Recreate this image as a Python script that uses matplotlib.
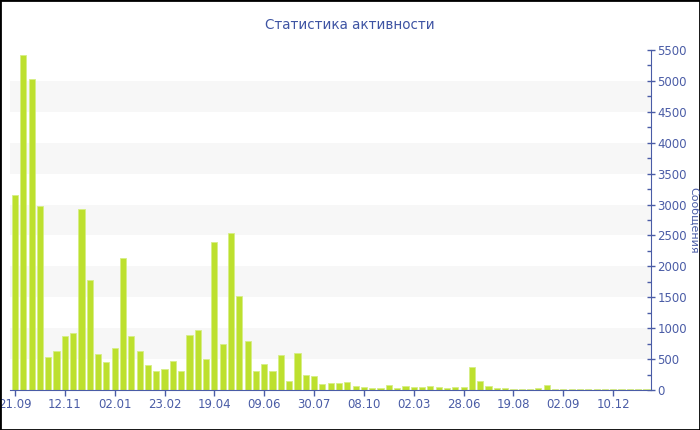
import numpy as np
import matplotlib
matplotlib.use("Agg")
import matplotlib.pyplot as plt
from matplotlib.patches import Rectangle
from matplotlib.ticker import MultipleLocator

title = "Статистика активности"
ylabel = "Сообщения"

tick_labels = ["21.09", "12.11", "02.01", "23.02", "19.04", "09.06", "30.07",
               "08.10", "02.03", "28.06", "19.08", "02.09", "10.12"]

# messages per period
counts = [3155, 5420, 5025, 2975, 540, 630, 875, 915, 2920, 1780, 585, 450, 685, 2135,
          875, 625, 405, 300, 345, 465, 315, 895, 975, 500, 2390, 740, 2540,
          1525, 795, 300, 425, 305, 565, 145, 595, 250, 225, 92, 110, 115,
          122, 65, 52, 27, 27, 81, 35, 70, 49, 49, 59, 43, 27, 50, 45,
          372, 146, 59, 32, 32, 16, 16, 16, 32, 88, 22,
          18, 16, 18, 20, 18, 20, 18, 22, 20, 20, 22]

blue = "#4a5ca6"
bar_col = "#bde02e"

fig = plt.figure(figsize=(7, 4.3), dpi=100)
ax = fig.add_axes([10/700, 1 - 390/430, 641/700, 340/430])

x = np.arange(len(counts))
ax.bar(x, counts, width=0.74, color=bar_col, edgecolor="#d6ee86", linewidth=0.6, zorder=3)

# alternating bands
for lo in range(500, 5500, 1000):
    ax.axhspan(lo, lo + 500, color="#f7f7f7", zorder=0, lw=0)

ax.set_xlim(-0.6, len(counts) - 0.45)
ax.set_ylim(0, 5500)

ax.yaxis.tick_right()
ax.yaxis.set_major_locator(MultipleLocator(500))
ax.yaxis.set_minor_locator(MultipleLocator(250))
ax.tick_params(axis="y", which="major", direction="inout", length=6, width=1,
               color=blue, labelcolor=blue, labelsize=8.5, pad=1.5)
ax.tick_params(axis="y", which="minor", direction="in", length=3, width=1, color=blue)

ax.set_xticks(x[::6])
ax.set_xticklabels(tick_labels)
ax.tick_params(axis="x", direction="out", length=4, width=1, color=blue,
               labelcolor=blue, labelsize=8.5, pad=2)

for s in ["top", "left"]:
    ax.spines[s].set_visible(False)
ax.spines["bottom"].set_color(blue)
ax.spines["right"].set_color(blue)
ax.spines["bottom"].set_zorder(4)

fig.text(694/700, 1 - 220/430, ylabel, rotation=270, ha="center", va="center",
         color=blue, fontsize=8)

fig.text(0.5, 1 - 25/430, title, ha="center", va="center", color="#3e54a3", fontsize=9.75)

fig.patches.append(Rectangle((0, 0), 1, 1, transform=fig.transFigure, fill=False,
                             edgecolor="black", linewidth=2))

fig.savefig("out.png", dpi=100)
